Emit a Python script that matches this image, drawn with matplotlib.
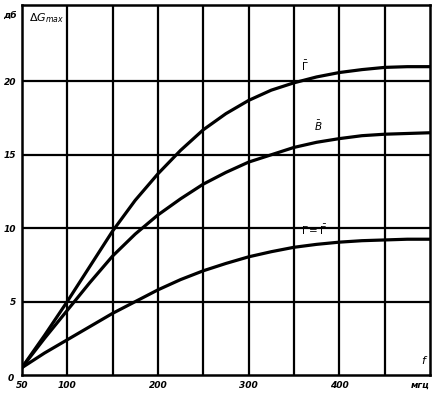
import numpy as np
import matplotlib.pyplot as plt

# frequency, MHz
f = [50, 75, 100, 125, 150, 175, 200, 225, 250, 275, 300, 325, 350, 375, 400, 425, 450, 475, 500]
# gain increase, dB
g_top = [0.5, 2.7, 5.0, 7.4, 9.8, 11.9, 13.7, 15.3, 16.7, 17.8, 18.7, 19.4, 19.9, 20.3, 20.6, 20.8, 20.95, 21.0, 21.0]
g_mid = [0.5, 2.5, 4.4, 6.3, 8.1, 9.6, 10.9, 12.0, 13.0, 13.8, 14.5, 15.0, 15.5, 15.85, 16.1, 16.3, 16.4, 16.45, 16.5]
g_low = [0.5, 1.5, 2.4, 3.3, 4.2, 5.0, 5.8, 6.5, 7.1, 7.6, 8.05, 8.4, 8.7, 8.9, 9.05, 9.15, 9.2, 9.25, 9.25]

xticks = [50, 100, 200, 300, 400, 500]
xlabels = ['50', '100', '200', '300', '400', 'мгц']
yticks = [5, 10, 15, 20]

fig = plt.figure(figsize=(4.46, 3.99), dpi=100)
ax = fig.add_axes([0.049, 0.06, 0.915, 0.9275])

for x in range(100, 500, 50):
    ax.axvline(x, color='black', lw=1.6)
for y in yticks:
    ax.axhline(y, color='black', lw=1.6)

for g in (g_top, g_mid, g_low):
    ax.plot(f, g, color='black', lw=2.3, solid_joinstyle='round', solid_capstyle='round')

ax.set_xlim(50, 500)
ax.set_ylim(0, 25.2)
for s in ax.spines.values():
    s.set_linewidth(1.8)

fnt = dict(fontsize=6.5, fontweight='bold', fontstyle='italic')
ax.set_xticks(xticks)
ax.set_xticklabels(xlabels, **fnt)
ax.set_yticks(yticks)
ax.set_yticklabels([str(v) for v in yticks], **fnt)
ax.tick_params(length=0, pad=4)
ax.get_xticklabels()[-1].set_horizontalalignment('right')

ax.text(-0.045, 0.985, 'дб', transform=ax.transAxes, ha='left', va='top', **fnt)
ax.text(58, 24.8, r'$\Delta G_{max}$', ha='left', va='top', fontsize=8, fontweight='bold')
ax.text(362, 20.6, r'$\bar{\Gamma}$', ha='center', va='bottom', fontsize=7.5)
ax.text(377, 16.5, r'$\bar{B}$', ha='center', va='bottom', fontsize=7.5)
ax.text(372, 9.4, r'$\Gamma=\bar{\Gamma}$', ha='center', va='bottom', fontsize=7.5)
ax.text(494, 0.6, r'$f$', ha='center', va='bottom', fontsize=8)
ax.text(-0.035, -0.01, '0', transform=ax.transAxes, ha='left', va='center', **fnt)

fig.savefig('out.png', dpi=100)
